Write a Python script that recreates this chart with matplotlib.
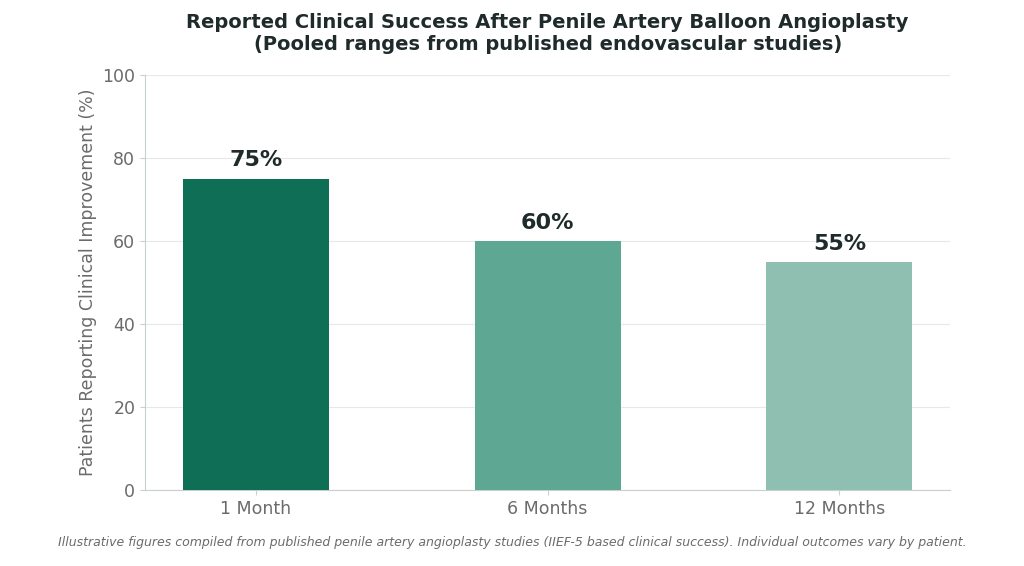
import matplotlib.pyplot as plt

periods = ['1 Month', '6 Months', '12 Months']
success = [75, 60, 55]
colors = ['#0f6e56', '#5ea793', '#8fbfb0']

fig = plt.figure(figsize=(10.24, 5.66), dpi=100)
ax = fig.add_axes([0.1416, 0.134, 0.7864, 0.7335])

x = range(len(periods))
ax.bar(x, success, width=0.5, color=colors, zorder=3)
for i, v in zip(x, success):
    ax.text(i, v + 2, f'{v}%', ha='center', va='bottom', fontsize=16,
            fontweight='bold', color='#1f2a2a')

ax.set_xlim(-0.38, 2.38)
ax.set_ylim(0, 100)
ax.set_xticks(list(x))
ax.set_xticklabels(periods)
ax.set_yticks(range(0, 101, 20))
ax.tick_params(colors='#6b6b6b', labelsize=12.5)
ax.tick_params(axis='both', color='#c8d0cc')
ax.grid(axis='y', color='#e6e9e8', zorder=0)
for s in ['top', 'right']:
    ax.spines[s].set_visible(False)
for s in ['left', 'bottom']:
    ax.spines[s].set_color('#c8d0cc')
ax.set_ylabel('Patients Reporting Clinical Improvement (%)', fontsize=12.5,
              color='#6b6b6b')
ax.set_title('Reported Clinical Success After Penile Artery Balloon Angioplasty\n'
             '(Pooled ranges from published endovascular studies)',
             fontsize=14, fontweight='bold', color='#1f2a2a', pad=18)
fig.text(0.5, 0.035, 'Illustrative figures compiled from published penile artery angioplasty '
         'studies (IIEF-5 based clinical success). Individual outcomes vary by patient.',
         ha='center', fontsize=9, style='italic', color='#6b6b6b')

fig.savefig('out.png', dpi=100)
